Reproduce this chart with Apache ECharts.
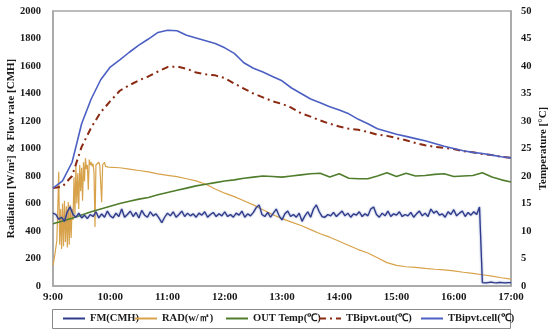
<!DOCTYPE html>
<html><head><meta charset="utf-8">
<script src="https://cdn.jsdelivr.net/npm/echarts@6/dist/echarts.min.js"></script>
<style>html,body{margin:0;padding:0;background:#fff}#c{width:550px;height:335px}</style>
</head><body><div id="c"></div>
<script>
// x axis: minutes since midnight (9:00 = 540, 17:00 = 1020)
const xTicks = ['9:00','10:00','11:00','12:00','13:00','14:00','15:00','16:00','17:00'];
const leftTicks = [0,200,400,600,800,1000,1200,1400,1600,1800,2000];
const rightTicks = [0,5,10,15,20,25,30,35,40,45,50];

// FM(CMH), every 3 min from 9:00
const fmStart = 540, fmStep = 3;
const fmValues = [
530,520,485,500,470,540,575,520,500,530,
495,515,490,520,505,540,495,525,500,545,
510,495,530,505,560,500,520,545,505,535,
495,550,515,500,540,510,525,495,460,500,
530,510,540,500,520,545,505,530,510,525,
500,530,515,540,500,520,535,505,525,510,
540,505,520,500,530,515,545,500,525,510,
535,570,590,520,505,535,500,530,560,510,
480,525,545,505,520,500,530,470,510,540,
500,560,590,540,505,500,520,510,535,505,
525,545,510,530,500,525,515,540,505,525,
510,560,575,520,500,530,510,545,505,525,
515,540,505,520,510,535,500,525,545,510,
530,505,560,530,545,515,525,500,540,520,
555,510,530,545,505,535,515,540,520,575,
25,22,25,28,24,22,26,24,22,25,
24];

// RAD(w/m2): every minute 9:00-10:00, then every 10 min
const radEarlyStart = 540, radEarlyStep = 1;
const radEarly = [
150,190,230,280,330,560,830,300,560,270,
600,290,620,320,580,280,610,300,590,350,
560,480,790,520,870,600,820,560,880,690,
860,620,900,760,930,850,880,700,920,880,
900,870,890,820,430,880,890,870,900,880,
870,610,880,875,900,870,880,870,865,870,
870];
const radLateStart = 610, radLateStep = 10;
const radLate = [
860,850,840,830,815,805,795,780,765,740,
705,675,650,620,590,555,520,490,465,440,
410,380,355,325,295,265,240,205,170,150,
140,135,128,122,117,110,100,92,82,72,
60,50];

// Temperatures (°C), every 10 min from 9:00
const tStart = 540, tStep = 10;
const outTemp = [
11.3,11.8,12.3,12.9,13.5,14.0,14.5,15.0,15.4,15.8,
16.1,16.6,17.0,17.4,17.8,18.2,18.5,18.8,19.1,19.3,
19.6,19.8,20.0,19.9,19.8,20.0,20.2,20.4,20.5,19.8,
20.4,19.6,19.5,19.5,20.0,20.6,19.9,20.5,20.0,20.1,
20.3,20.4,19.9,20.0,20.1,20.6,19.8,19.3,18.9];
const tbOut = [
17.8,18.1,20.0,25.3,28.8,31.6,33.6,35.5,36.5,37.4,
38.1,39.0,39.8,39.9,39.5,38.8,38.5,38.3,37.8,36.8,
35.9,35.0,34.3,33.6,33.1,32.4,31.4,30.8,30.1,29.5,
29.0,28.6,28.4,28.0,27.5,27.3,26.9,26.5,26.0,25.6,
25.3,25.1,24.9,24.5,24.3,24.0,23.8,23.5,23.3];
const tbCell = [
17.8,19.1,22.5,29.5,34.0,37.5,39.8,41.1,42.5,43.8,
44.9,46.1,46.5,46.4,45.6,45.1,44.6,44.1,43.3,42.3,
40.6,39.6,38.9,38.1,37.3,36.0,35.0,34.0,33.3,32.6,
32.0,31.3,30.3,29.5,28.6,28.1,27.6,27.2,26.8,26.4,
25.9,25.4,25.0,24.6,24.3,24.1,23.8,23.5,23.3];

const seriesNames = ['FM(CMH)','RAD(w/㎡)','OUT Temp(℃)','TBipvt.out(℃)','TBipvt.cell(℃)'];

function pairs(start, step, vals){ return vals.map((v,i)=>[start+i*step, v]); }
const radData = pairs(radEarlyStart, radEarlyStep, radEarly).concat(pairs(radLateStart, radLateStep, radLate));

const FONT = 'Liberation Serif';
const txt = {fontFamily: FONT, fontWeight: 'bold', fontSize: 11, color: '#1a1a1a'};

const chart = echarts.init(document.getElementById('c'), null, {renderer: 'canvas'});
function leg(name, left){
  return {data:[name], left: left, top: 313, itemWidth: 22, itemHeight: 8, itemGap: 5,
    itemStyle: {opacity: 0},
    textStyle: Object.assign({}, txt, {fontSize: 10.5}), padding: 0, selectedMode: false};
}
chart.setOption({
  animation: false,
  grid: {left: 53, top: 11, right: 39, bottom: 49, containLabel: false, outerBoundsMode: 'none',
         show: true, borderColor: '#a6a6a6', borderWidth: 1.5},
  xAxis: {type: 'value', min: 540, max: 1020, interval: 60,
    axisLine: {show: true, lineStyle: {color: '#a6a6a6', width: 1.5}}, axisTick: {show: false}, splitLine: {show: false},
    axisLabel: Object.assign({margin: 6, formatter: v => xTicks[Math.round((v-540)/60)]}, txt)},
  yAxis: [
    {type: 'value', min: 0, max: 2000, interval: 200, position: 'left',
     name: 'Radiation [W/m²] & Flow rate [CMH]', nameLocation: 'middle', nameGap: 36, nameRotate: 90,
     nameMoveOverlap: false,
     nameTextStyle: Object.assign({}, txt),
     axisLine: {show: true, lineStyle: {color: '#a6a6a6', width: 1.5}}, axisTick: {show: false}, splitLine: {show: false},
     axisLabel: Object.assign({margin: 12, formatter: v => String(leftTicks[Math.round(v/200)])}, txt, {fontSize: 10.5})},
    {type: 'value', min: 0, max: 50, interval: 5, position: 'right',
     name: 'Temperature [°C]', nameLocation: 'middle', nameGap: 27, nameRotate: 90,
     nameMoveOverlap: false,
     nameTextStyle: Object.assign({}, txt),
     axisLine: {show: true, lineStyle: {color: '#a6a6a6', width: 1.5}}, axisTick: {show: false}, splitLine: {show: false},
     axisLabel: Object.assign({margin: 10, formatter: v => String(rightTicks[Math.round(v/5)])}, txt, {fontSize: 10.5})}
  ],
  legend: [leg(seriesNames[0], 62), leg(seriesNames[1], 134), leg(seriesNames[2], 225), leg(seriesNames[3], 318), leg(seriesNames[4], 420)],
  graphic: [{type: 'rect', shape: {x: 52.5, y: 309.5, width: 458, height: 19}, style: {fill: 'none', stroke: '#8a8a8a', lineWidth: 1}}],
  series: [
    {name: seriesNames[1], type: 'line', yAxisIndex: 0, symbol: 'none', data: radData, z: 2,
     lineStyle: {color: '#d7a24a', width: 1.2}, itemStyle: {color: '#d7a24a'}},
    {name: seriesNames[2], type: 'line', yAxisIndex: 1, symbol: 'none', data: pairs(tStart, tStep, outTemp), z: 3,
     lineStyle: {color: '#4f7d2c', width: 1.6}, itemStyle: {color: '#4f7d2c'}},
    {name: seriesNames[0], type: 'line', yAxisIndex: 0, symbol: 'none', data: pairs(fmStart, fmStep, fmValues), z: 4,
     lineStyle: {color: '#2e3a8a', width: 1.3, shadowColor: 'rgba(110,125,185,0.9)', shadowBlur: 2}, itemStyle: {color: '#5866a8'}},
    {name: seriesNames[3], type: 'line', yAxisIndex: 1, symbol: 'none', data: pairs(tStart, tStep, tbOut), z: 5,
     lineStyle: {color: '#8b2a12', width: 2, type: [7, 4, 2, 4]}, itemStyle: {color: '#8b2a12'}},
    {name: seriesNames[4], type: 'line', yAxisIndex: 1, symbol: 'none', data: pairs(tStart, tStep, tbCell), z: 6,
     lineStyle: {color: '#4c5fc2', width: 1.6}, itemStyle: {color: '#4c5fc2'}}
  ]
});
</script></body></html>
